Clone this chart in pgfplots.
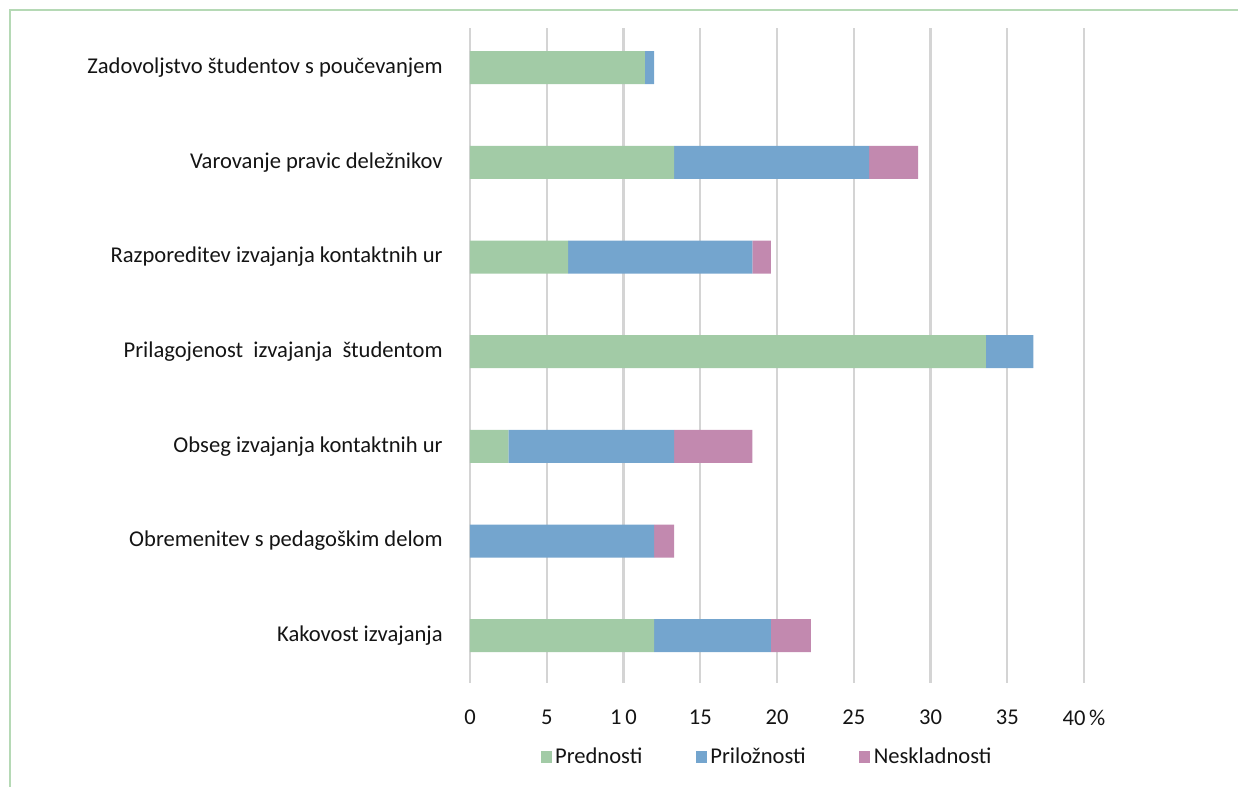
\documentclass[border=0pt]{standalone}
\usepackage{fontspec}
\setmainfont{Carlito}
\usepackage{pgfplots}
\pgfplotsset{compat=1.18}

\definecolor{prgreen}{HTML}{A2CBA6}
\definecolor{prblue}{HTML}{74A5CE}
\definecolor{prpink}{HTML}{C289AF}
\definecolor{gridgray}{HTML}{D4D4D4}
\definecolor{framegreen}{HTML}{B5D9B5}
\definecolor{txt}{HTML}{141414}

\begin{document}
\begin{tikzpicture}
% page frame, 1 px = 0.02 cm
\path[use as bounding box] (0,0) rectangle (24.76,15.74);
\draw[framegreen, line width=1.1pt] (0.2,0) -- (0.2,15.54) -- (24.76,15.54);

\begin{axis}[
  at={(9.4cm,2.08cm)}, anchor=south west,
  scale only axis,
  width=12.28cm, height=13.1cm,
  xbar stacked,
  bar width=0.66cm,
  xmin=0, xmax=40,
  ymin=-0.5, ymax=6.42,
  xtick={0,5,...,40},
  xticklabels={0,5,1\,0,15,20,25,30,35,40\,\%},
  ytick={0,...,6},
  yticklabels={Kakovost izvajanja,
               Obremenitev s pedagoškim delom,
               Obseg izvajanja kontaktnih ur,
               Prilagojenost\ \ izvajanja\ \ študentom,
               Razporeditev izvajanja kontaktnih ur,
               Varovanje pravic deležnikov,
               Zadovoljstvo študentov s poučevanjem},
  xmajorgrids,
  grid style={gridgray, line width=1.2pt},
  axis line style={draw=none},
  major tick length=0pt,
  tick style={draw=none},
  /pgf/number format/assume math mode=true,
  tick label style={font=\fontsize{12.85}{15}\selectfont, text=txt},
  xticklabel style={inner sep=0pt, anchor=north, yshift=-0.54cm},
  yticklabel style={inner sep=0pt, anchor=east, xshift=-0.54cm},
  legend columns=3,
  legend style={
    at={(0.485,-0.113)}, anchor=center,
    draw=none, fill=none,
    font=\fontsize{12.85}{15}\selectfont, text=txt,
    /tikz/every even column/.append style={column sep=1.0cm},
  },
  legend image code/.code={\fill[#1] (0cm,-0.11cm) rectangle (0.22cm,0.13cm);},
]

\addplot[fill=prgreen, draw=none] coordinates {
  (12.0,0) (0,1) (2.5,2) (33.6,3) (6.4,4) (13.3,5) (11.4,6)
};
\addlegendentry{Prednosti}

\addplot[fill=prblue, draw=none] coordinates {
  (7.6,0) (12.0,1) (10.8,2) (3.1,3) (12.0,4) (12.7,5) (0.6,6)
};
\addlegendentry{Priložnosti}

\addplot[fill=prpink, draw=none] coordinates {
  (2.6,0) (1.3,1) (5.1,2) (0,3) (1.2,4) (3.2,5) (0,6)
};
\addlegendentry{Neskladnosti}

\end{axis}
\end{tikzpicture}
\end{document}
